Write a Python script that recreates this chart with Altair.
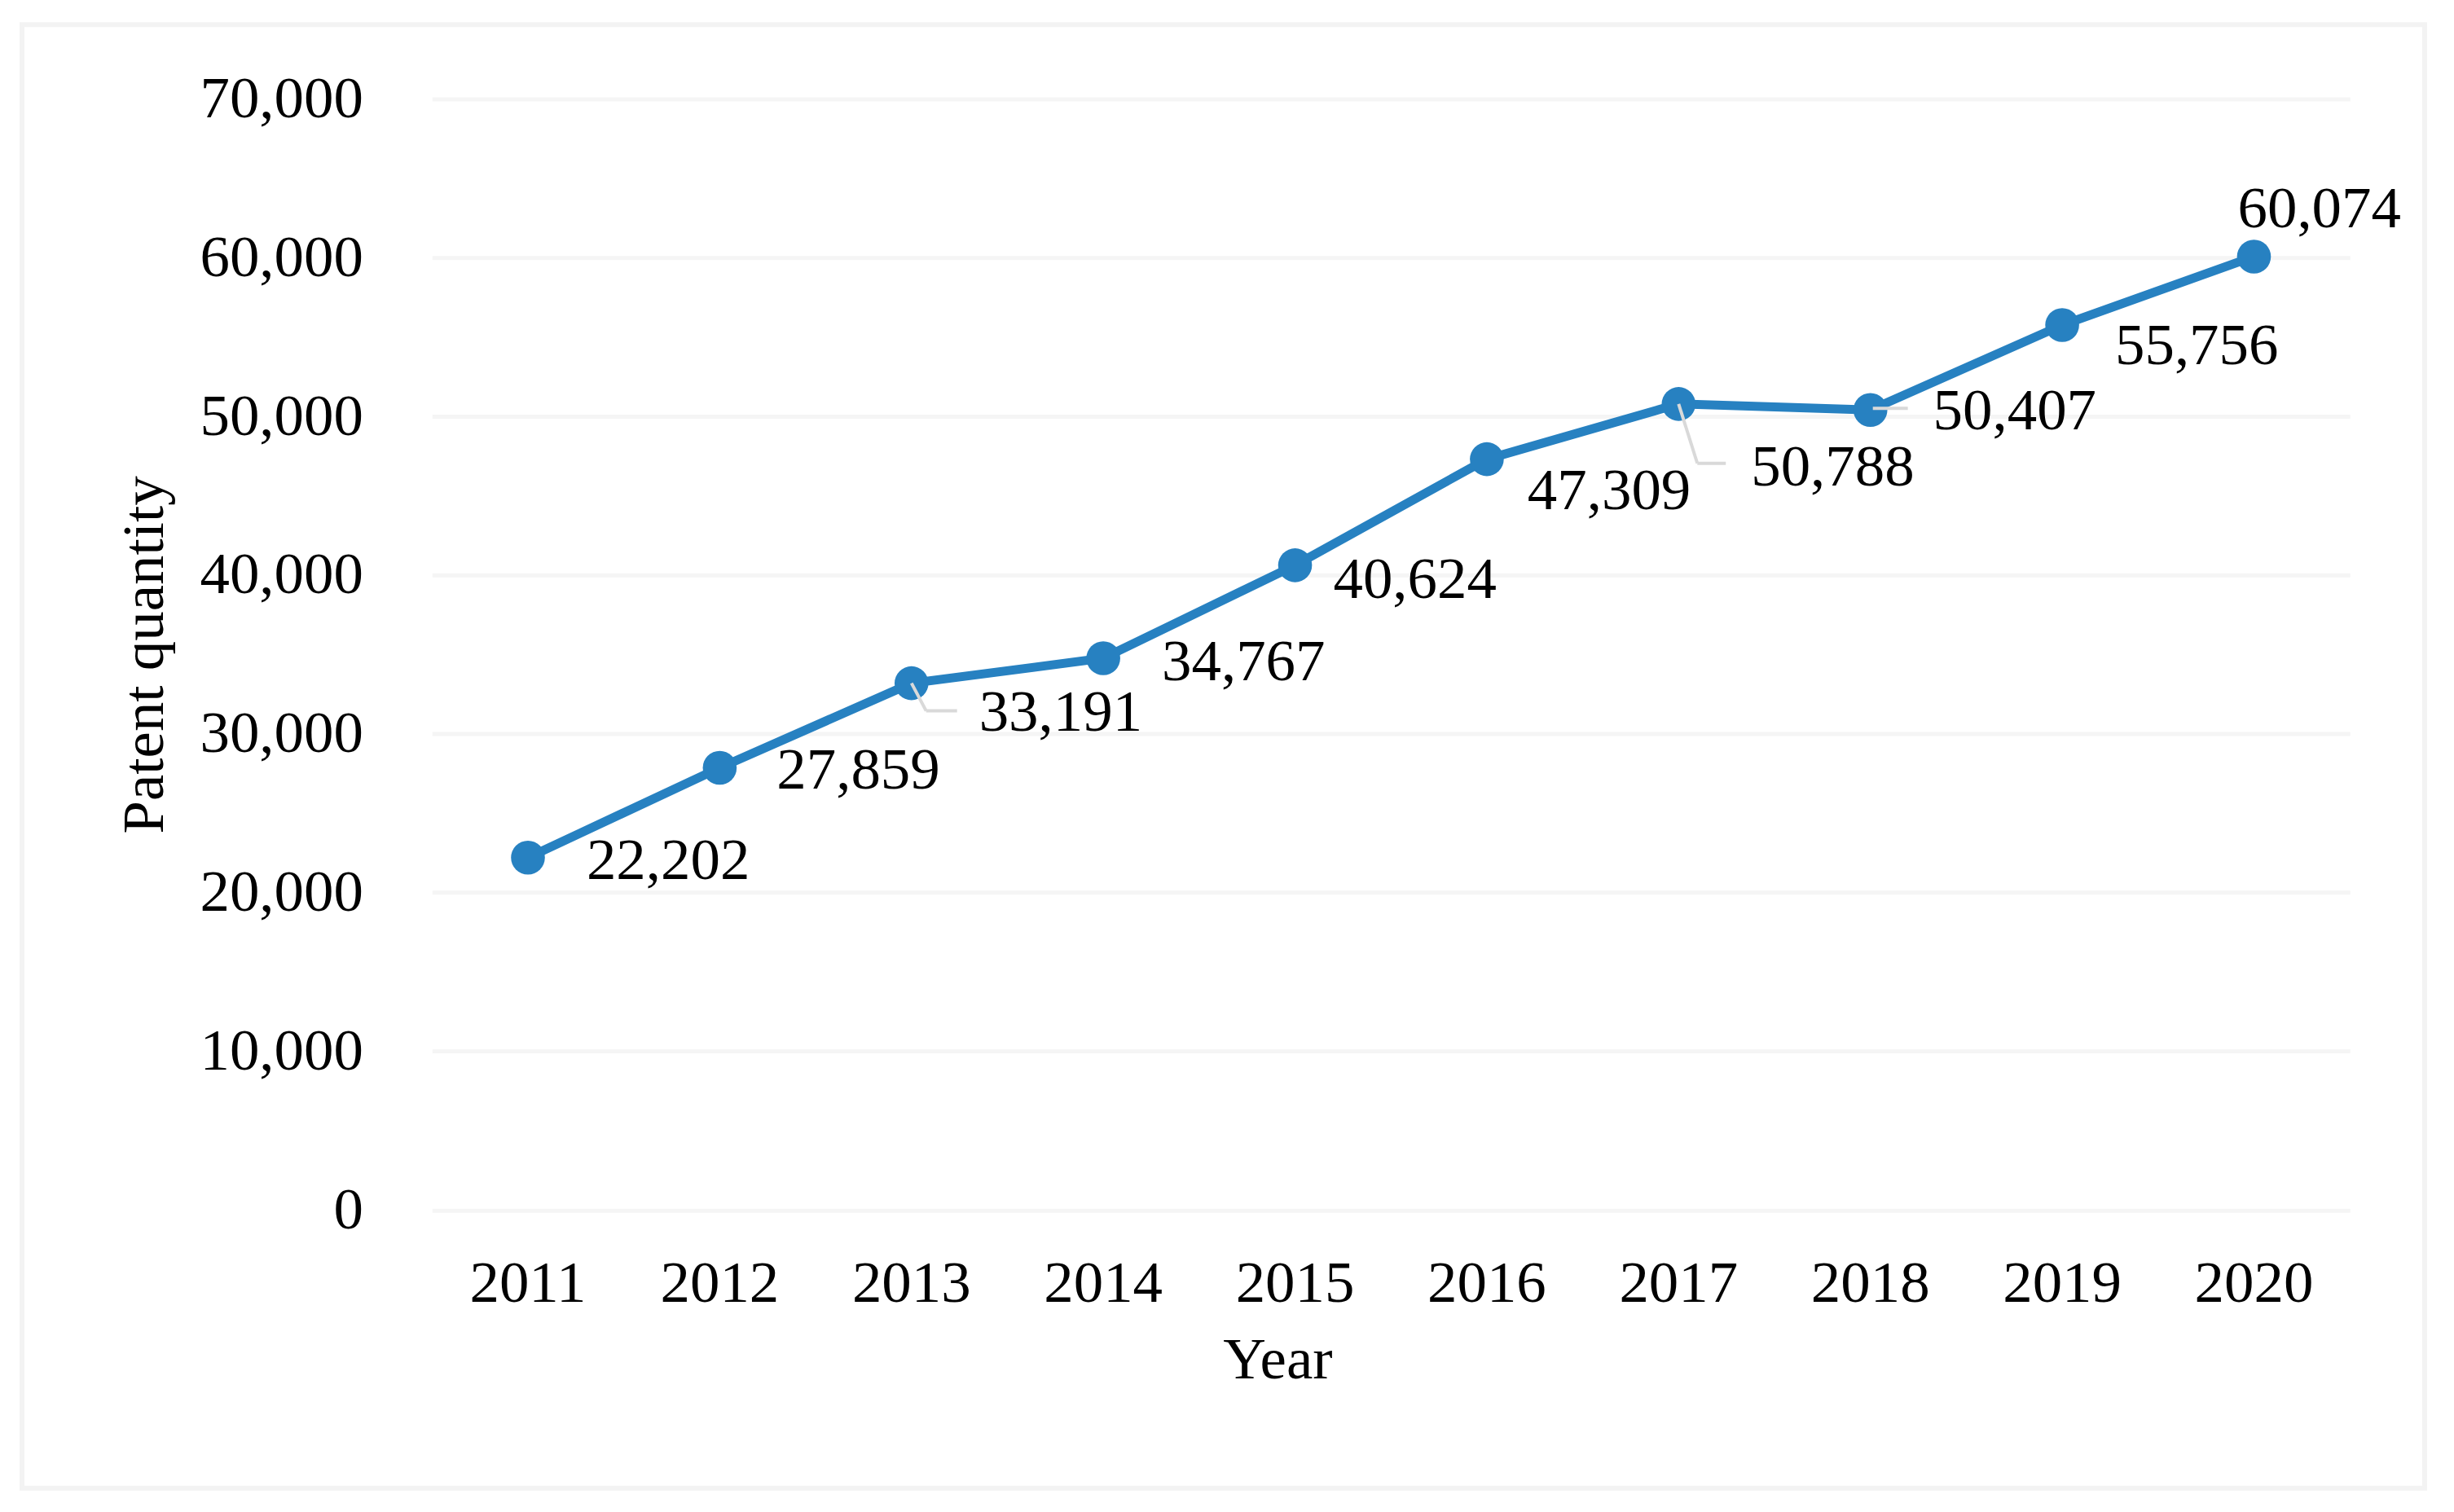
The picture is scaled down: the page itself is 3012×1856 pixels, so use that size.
import altair as alt
import pandas as pd

# ---- data ----
years = ["2011", "2012", "2013", "2014", "2015", "2016", "2017", "2018", "2019", "2020"]
patents = [22202, 27859, 33191, 34767, 40624, 47309, 50788, 50407, 55756, 60074]
y_ticks = [0, 10000, 20000, 30000, 40000, 50000, 60000, 70000]

# ---- label placement (pixel offsets from each point, style only) ----
label_dx = [72, 70, 83, 72, 47, 50, 89, 77, 65, -20]
label_dy = [4, 4, 36, 5, 18, 39, 78, 2, 26, -58]

# leader lines: (year, x1, y1, x2, y2) offsets in pixels from the point
leaders = [
    ("2013", 0, 0, 18, 34), ("2013", 18, 34, 56, 34),
    ("2017", 0, 0, 23, 73), ("2017", 23, 73, 58, 73),
    ("2018", 3, -2, 46, -2),
]

FONT = "Liberation Serif"
FS = 73
BLUE = "#2781c1"

W, H = 2357, 1365.5
LEFT, TOP = 531, 120.5

df = pd.DataFrame({"Year": years, "Patents": patents})

x = alt.X("Year:O", sort=years,
          axis=alt.Axis(title="Year", labelAngle=0, labelFont=FONT, labelFontSize=FS,
                        labelColor="black", labelBaseline="alphabetic", labelPadding=112,
                        labelLimit=1000,
                        ticks=False, tickSize=0, domain=False, grid=False,
                        titleFont=FONT, titleFontSize=FS, titleFontWeight="normal",
                        titleColor="black", titleX=1039, titleY=207,
                        titleAlign="center", titleBaseline="alphabetic"))
y = alt.Y("Patents:Q", scale=alt.Scale(domain=[0, 70000], nice=False, zero=True),
          axis=alt.Axis(title="Patent quantity", values=y_ticks, format=",.0f",
                        labelFont=FONT, labelFontSize=FS, labelColor="black",
                        labelPadding=85, labelLimit=1000,
                        ticks=False, tickSize=0, domain=False,
                        grid=True, gridColor="#f5f5f5", gridWidth=5,
                        titleFont=FONT, titleFontSize=FS, titleFontWeight="normal",
                        titleColor="black", titleAngle=-90, titleX=-331, titleY=H / 2,
                        titleAlign="center", titleBaseline="alphabetic"))

base = alt.Chart(df)

line = base.mark_line(color=BLUE, strokeWidth=11).encode(x=x, y=y)
pts = base.mark_point(filled=True, opacity=1, color=BLUE, size=1735).encode(x=x, y=y)

layers = [line, pts]

for (yr, x1, y1, x2, y2) in leaders:
    layers.append(
        base.transform_filter(alt.datum.Year == yr)
        .mark_rule(color="#d9d9d9", strokeWidth=4,
                   xOffset=x1, yOffset=y1, x2Offset=x2, y2Offset=y2)
        .encode(x=x, y=y, x2="Year:O", y2="Patents:Q")
    )

for yr, dx, dy in zip(years, label_dx, label_dy):
    layers.append(
        base.transform_filter(alt.datum.Year == yr)
        .mark_text(align="left", baseline="middle", dx=dx, dy=dy,
                   font=FONT, fontSize=FS, color="black")
        .encode(x=x, y=y, text=alt.Text("Patents:Q", format=",.0f"))
    )

frame = alt.Chart(alt.Data(values=[{"a": 1}])).mark_rect(
    fill="transparent", stroke="#f3f3f3", strokeWidth=6
).encode(
    x=alt.value(27 - LEFT), x2=alt.value(2980 - LEFT),
    y=alt.value(29 - TOP), y2=alt.value(1828 - TOP),
)

chart = alt.layer(frame, *layers).properties(
    width=W, height=H,
    autosize=alt.AutoSizeParams(type="none"),
    padding={"left": LEFT - 8, "top": TOP - 8, "right": 120, "bottom": 360},
    background="white",
).configure_view(strokeWidth=0)

chart.save("out.html", embed_options={"renderer": "svg", "actions": False})
